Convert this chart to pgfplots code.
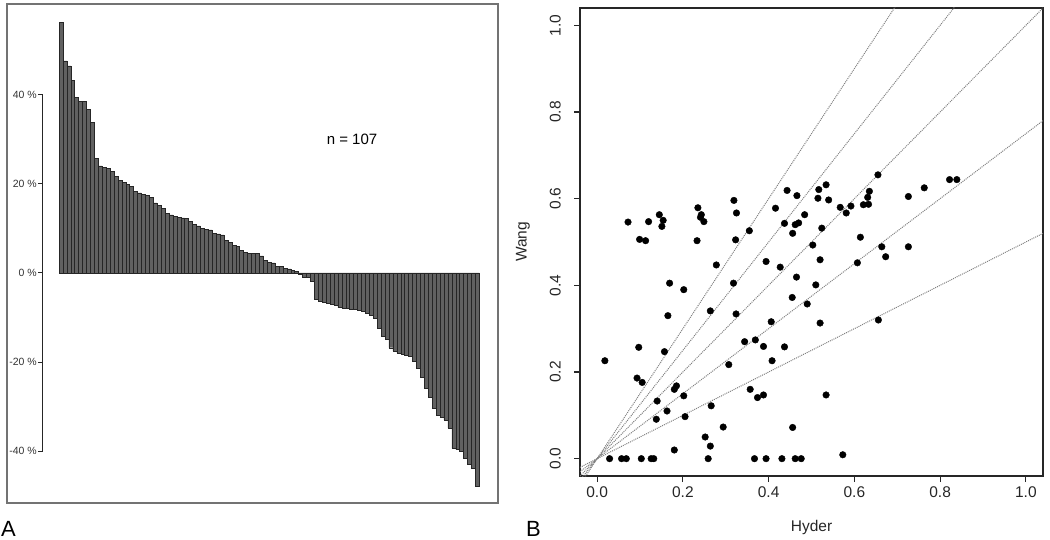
\documentclass[border=0pt]{standalone}
\usepackage{pgfplots}
\pgfplotsset{compat=1.18}
\usepackage{pgfplotstable}
\usepackage{fontspec}
\setmainfont{Liberation Sans}

\pgfplotstableread{
k v
1 56.2
2 47.5
3 46.4
4 43.1
5 39.4
6 38.4
7 38.4
8 36.6
9 33.8
10 25.7
11 24.0
12 23.7
13 23.4
14 22.7
15 21.6
16 20.7
17 20.3
18 19.9
19 19.4
20 18.2
21 17.9
22 17.6
23 17.3
24 16.9
25 15.7
26 15.2
27 14.4
28 13.3
29 13.0
30 12.6
31 12.4
32 12.3
33 12.2
34 11.5
35 10.9
36 10.5
37 9.9
38 9.8
39 9.6
40 8.9
41 8.7
42 8.5
43 7.2
44 6.9
45 6.1
46 5.9
47 5.0
48 4.6
49 4.4
50 4.3
51 4.3
52 3.8
53 2.8
54 2.3
55 2.2
56 1.5
57 1.4
58 1.0
59 0.9
60 0.6
61 0.3
62 -0.3
63 -0.9
64 -1.1
65 -2.0
66 -6.0
67 -6.4
68 -6.6
69 -6.9
70 -7.1
71 -7.3
72 -7.8
73 -7.9
74 -8.0
75 -8.1
76 -8.2
77 -8.3
78 -8.6
79 -9.0
80 -9.6
81 -10.1
82 -12.4
83 -14.2
84 -15.0
85 -16.8
86 -17.5
87 -18.0
88 -18.2
89 -18.4
90 -18.6
91 -19.8
92 -21.3
93 -23.5
94 -25.8
95 -28.0
96 -30.3
97 -32.0
98 -32.4
99 -33.0
100 -34.8
101 -39.3
102 -39.6
103 -40.0
104 -41.5
105 -43.0
106 -43.8
107 -47.9
}\bardata

\pgfplotstableread{
x y
0.018 0.226
0.029 0.0
0.057 0.0
0.068 0.0
0.103 0.0
0.126 0.0
0.132 0.0
0.072 0.546
0.099 0.506
0.113 0.503
0.120 0.547
0.145 0.563
0.154 0.550
0.151 0.536
0.097 0.257
0.093 0.186
0.105 0.176
0.140 0.133
0.138 0.091
0.163 0.110
0.157 0.247
0.165 0.330
0.169 0.405
0.180 0.020
0.180 0.160
0.185 0.168
0.202 0.390
0.202 0.145
0.205 0.097
0.235 0.579
0.243 0.563
0.241 0.557
0.249 0.547
0.233 0.503
0.252 0.050
0.264 0.029
0.259 0.0
0.264 0.341
0.266 0.122
0.278 0.447
0.294 0.073
0.307 0.217
0.318 0.405
0.324 0.334
0.319 0.596
0.325 0.567
0.323 0.505
0.355 0.526
0.344 0.270
0.357 0.160
0.369 0.274
0.367 0.0
0.374 0.141
0.388 0.147
0.388 0.259
0.394 0.0
0.394 0.455
0.406 0.316
0.408 0.226
0.427 0.442
0.431 0.0
0.437 0.258
0.416 0.578
0.443 0.619
0.437 0.543
0.466 0.607
0.517 0.621
0.534 0.632
0.515 0.601
0.540 0.597
0.567 0.580
0.592 0.583
0.581 0.567
0.621 0.586
0.633 0.587
0.635 0.617
0.631 0.603
0.726 0.605
0.763 0.625
0.822 0.644
0.839 0.644
0.655 0.655
0.462 0.540
0.470 0.544
0.456 0.520
0.484 0.563
0.524 0.532
0.503 0.493
0.520 0.459
0.614 0.511
0.607 0.452
0.664 0.489
0.673 0.466
0.726 0.489
0.465 0.419
0.510 0.401
0.455 0.372
0.490 0.357
0.520 0.313
0.656 0.320
0.534 0.147
0.456 0.072
0.462 0.0
0.476 0.0
0.573 0.009
}\scatdata

\begin{document}
\begin{tikzpicture}[x=1pt,y=1pt]
\useasboundingbox (0,0) rectangle (1050,539);
% frame of panel A
\draw[black!55, line width=1.3pt] (7,36) rectangle (498,535);
\node[anchor=center, font=\fontsize{15}{18}\selectfont] at (352,399.7) {n = 107};
\node[anchor=base west, inner sep=0pt, font=\fontsize{22}{26}\selectfont] at (1,3) {A};
\node[anchor=base west, inner sep=0pt, font=\fontsize{22}{26}\selectfont] at (526,3) {B};

\begin{axis}[
  at={(43pt,87.8pt)}, anchor=south west, scale only axis,
  width=436.3pt, height=356.8pt,
  xmin=-3.574, xmax=107.5, ymin=-40, ymax=40,
  axis x line=none, axis y line*=left,
  clip=false,
  ytick={-40,-20,0,20,40},
  yticklabels={-40 \%,-20 \%,0 \%,20 \%,40 \%},
  tick align=outside, major tick length=5pt,
  major tick style={line width=1pt, black!85},
  y axis line style={line width=1pt, black!85},
  yticklabel style={font=\fontsize{10.5}{12}\selectfont, inner sep=1pt, text=black!80},
]
\addplot[ybar, bar width=1, bar shift=0pt, fill=black!62, draw=black!85, line width=0.45pt] table[x=k,y=v] {\bardata};
\end{axis}

\begin{axis}[
  at={(580pt,63pt)}, anchor=south west, scale only axis,
  width=463pt, height=468pt,
  xmin=-0.04, xmax=1.04, ymin=-0.04, ymax=1.04,
  xtick={0,0.2,0.4,0.6,0.8,1.0}, ytick={0,0.2,0.4,0.6,0.8,1.0},
  xticklabels={0.0,0.2,0.4,0.6,0.8,1.0},
  yticklabels={0.0,0.2,0.4,0.6,0.8,1.0},
  tick pos=left, tick align=outside, major tick length=6pt,
  major tick style={line width=1.2pt, black!85},
  axis line style={line width=1.5pt, black!85},
  ticklabel style={font=\fontsize{15.5}{18}\selectfont, text=black!85},
  xticklabel style={anchor=north, inner sep=0pt, yshift=-4pt},
  yticklabel style={rotate=90, anchor=south, inner sep=0pt, yshift=13pt},
  xlabel={Hyder}, ylabel={Wang},
  label style={font=\fontsize{15.5}{18}\selectfont, text=black!85},
  xlabel style={at={(axis description cs:0.5,-0.1186)}, anchor=base, inner sep=0pt},
  ylabel style={at={(axis description cs:-0.1231,0.5)}, anchor=center, rotate=0, inner sep=0pt},
]
\addplot[black!50, densely dotted, line width=1pt] coordinates {(-0.04,-0.06) (1.04,1.56)};
\addplot[black!50, densely dotted, line width=1pt] coordinates {(-0.04,-0.05) (1.04,1.30)};
\addplot[black!50, densely dotted, line width=1pt] coordinates {(-0.04,-0.04) (1.04,1.04)};
\addplot[black!50, densely dotted, line width=1pt] coordinates {(-0.04,-0.03) (1.04,0.78)};
\addplot[black!50, densely dotted, line width=1pt] coordinates {(-0.04,-0.02) (1.04,0.52)};
\addplot[only marks, mark=*, mark size=3.3pt, black] table[x=x,y=y] {\scatdata};
\end{axis}
\end{tikzpicture}
\end{document}
